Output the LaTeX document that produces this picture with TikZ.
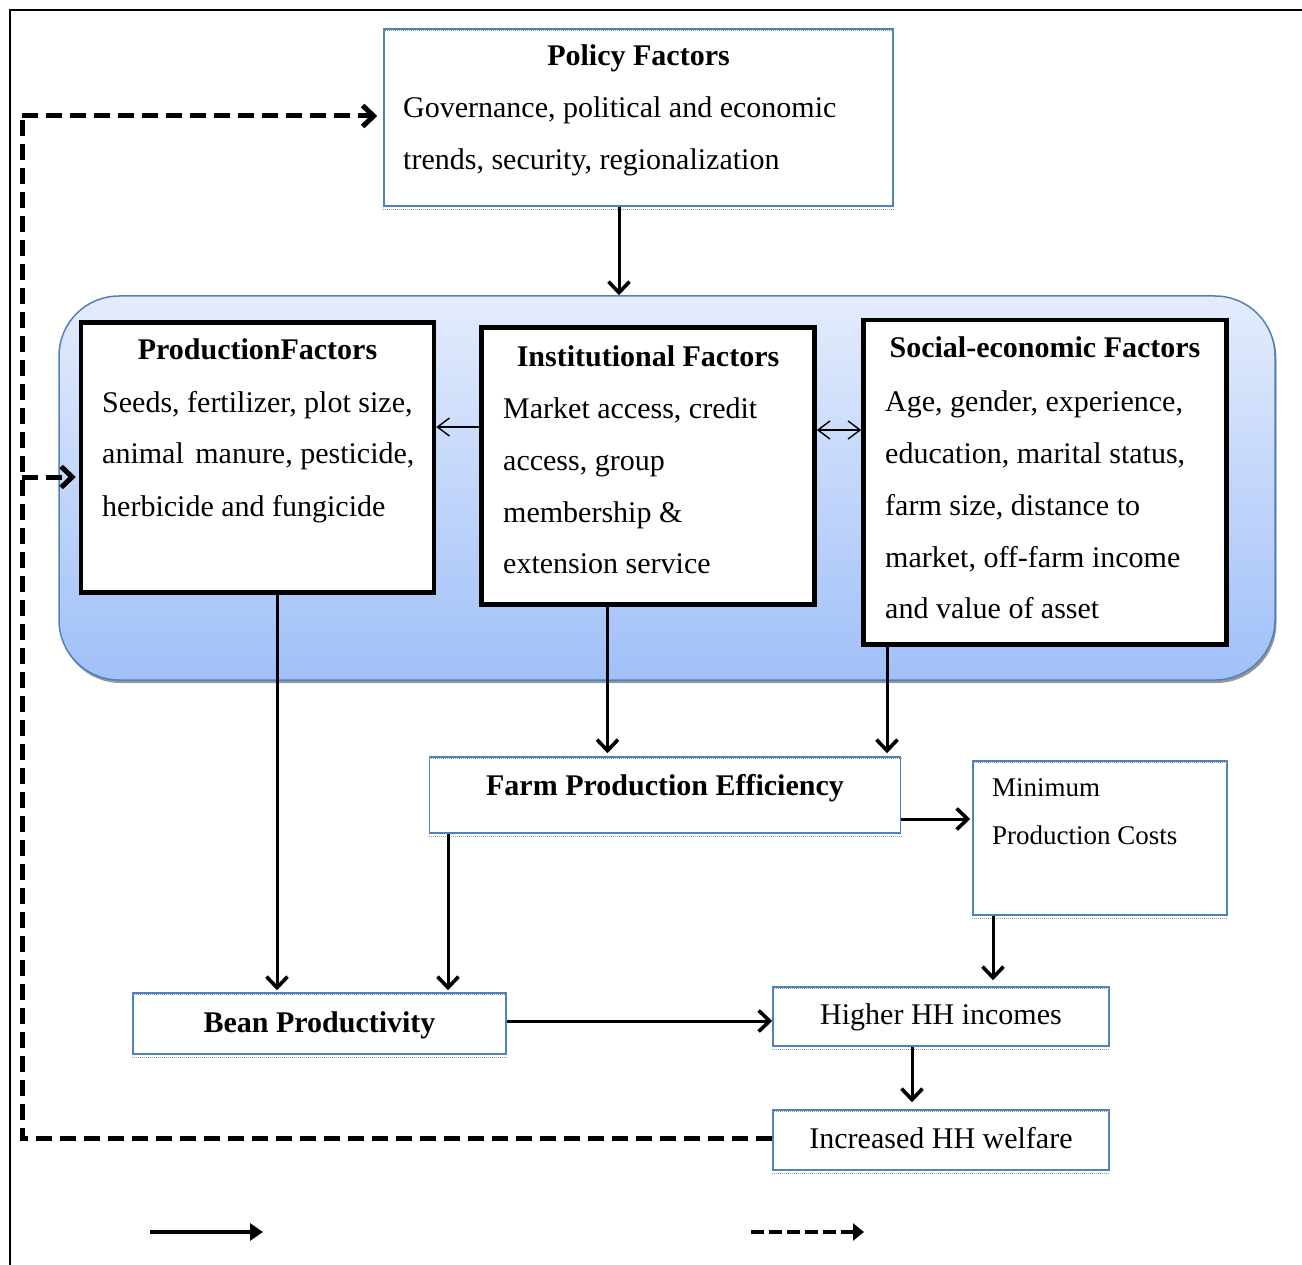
\documentclass[tikz,border=0pt]{standalone}
\usepackage{fontspec}
\setmainfont{Liberation Serif}
\usetikzlibrary{arrows.meta}
\definecolor{boxblue}{RGB}{79,129,189}
\definecolor{areatop}{RGB}{228,236,252}
\definecolor{areabot}{RGB}{160,192,248}
\definecolor{shadowgray}{RGB}{150,150,150}
\tikzset{
  bluebox/.style={draw=boxblue, line width=1.5pt, fill=white, rectangle},
  blackbox/.style={draw=black, line width=4.5pt, fill=white, rectangle},
  gline/.style={draw=shadowgray, line width=1pt, densely dotted},
  txt/.style={inner sep=0pt, anchor=base west, font=\fontsize{30}{52}\selectfont},
  hd/.style={inner sep=0pt, anchor=base, font=\fontsize{30}{52}\selectfont\bfseries},
  ctxt/.style={inner sep=0pt, anchor=base, font=\fontsize{30}{52}\selectfont},
  stxt/.style={inner sep=0pt, anchor=base west, font=\fontsize{27}{47}\selectfont},
  arr/.style={line width=3pt, -{Straight Barb[length=11pt,width=21pt,line width=3.6pt]}},
  thinarr/.style={line width=1.3pt, -{Straight Barb[length=12pt,width=18pt,line width=1.4pt]}},
  thinboth/.style={line width=1.3pt, {Straight Barb[length=12pt,width=18pt,line width=1.4pt]}-{Straight Barb[length=12pt,width=18pt,line width=1.4pt]}},
  dsh/.style={line width=5pt, dash pattern=on 16pt off 8pt},
  dsharr/.style={dsh, -{Straight Barb[length=11pt,width=21pt,line width=5pt]}},
  legsolid/.style={line width=3.5pt, -{Triangle[length=13pt,width=17pt]}},
  legdash/.style={line width=4.5pt, dash pattern=on 13pt off 5pt, -{Triangle[length=11pt,width=17pt]}}
}
\begin{document}
\begin{tikzpicture}[x=1pt,y=1pt]
\useasboundingbox (0,0) rectangle (1302,-1265);
% outer frame
\coordinate (fbl) at (10,-1265);
\coordinate (ftl) at (10,-10);
\coordinate (ftr) at (1302,-10);
\draw[line width=1.5pt] (fbl) -- (ftl) -- (ftr);

% shaded area
\fill[shadowgray, rounded corners=60pt] (60.5,-298.5) rectangle (1276.5,-683);
\node[draw=boxblue, line width=1.5pt, top color=areatop, bottom color=areabot,
      rounded corners=60pt, minimum width=1216pt, minimum height=384pt, inner sep=0pt] (area) at (667,-488) {};

% boxes
\node[bluebox, minimum width=509pt, minimum height=177pt] (pol) at (638.5,-117.5) {};
\node[blackbox, minimum width=353pt, minimum height=270pt] (prod) at (257.5,-457.5) {};
\node[blackbox, minimum width=333pt, minimum height=277pt] (inst) at (648,-466) {};
\node[blackbox, minimum width=363pt, minimum height=324.5pt] (soc) at (1045,-482.25) {};
\node[bluebox, minimum width=471pt, minimum height=76pt] (fpe) at (665,-795) {};
\node[bluebox, minimum width=254pt, minimum height=154pt] (minc) at (1100,-838) {};
\node[bluebox, minimum width=373pt, minimum height=61pt] (bean) at (319.5,-1023.5) {};
\node[bluebox, minimum width=336pt, minimum height=59pt] (hi) at (941,-1016.5) {};
\node[bluebox, minimum width=336pt, minimum height=60pt] (inc) at (941,-1140) {};

\foreach \n in {pol,fpe,minc,bean,hi,inc}{
  \draw[gline] ([yshift=-2.5pt]\n.north west) -- ([yshift=-2.5pt]\n.north east);
  \draw[gline] ([yshift=-2.5pt]\n.south west) -- ([yshift=-2.5pt]\n.south east);
}

% texts
\node[hd] (polh) at (638.5,-66) {Policy Factors};
\node[txt] (pol1) at (403,-118) {Governance, political and economic};
\node[txt] (pol2) at (403,-170) {trends, security, regionalization};

\node[hd] (prodh) at (257.5,-360) {ProductionFactors};
\node[txt] (prod1) at (102,-413) {Seeds, fertilizer, plot size,};
\node[txt] (prod2) at (102,-464) {animal\hspace{4pt} manure, pesticide,};
\node[txt] (prod3) at (102,-516) {herbicide and fungicide};

\node[hd] (insth) at (648,-367) {Institutional Factors};
\node[txt] (inst1) at (503,-418) {Market access, credit};
\node[txt] (inst2) at (503,-470) {access, group};
\node[txt] (inst3) at (503,-522) {membership \&};
\node[txt] (inst4) at (503,-573) {extension service};

\node[hd] (soch) at (1045,-358) {Social-economic Factors};
\node[txt] (soc1) at (885,-411) {Age, gender, experience,};
\node[txt] (soc2) at (885,-463) {education, marital status,};
\node[txt] (soc3) at (885,-515) {farm size, distance to};
\node[txt] (soc4) at (885,-567) {market, off-farm income};
\node[txt] (soc5) at (885,-618) {and value of asset};

\node[hd] (fpeh) at (665,-795) {Farm Production Efficiency};
\node[stxt] (min1) at (992,-796) {Minimum};
\node[stxt] (min2) at (992,-844) {Production Costs};
\node[hd] (beant) at (319.5,-1032) {Bean Productivity};
\node[ctxt] (hit) at (941,-1024) {Higher HH incomes};
\node[ctxt] (inct) at (941,-1148) {Increased HH welfare};

% connectors
\coordinate (ax) at (619,0);
\draw[arr] (pol.south -| ax) -- (area.north -| ax);
\coordinate (yi) at (0,-427);
\draw[thinarr] (inst.west |- yi) -- (prod.east |- yi);
\coordinate (ys) at (0,-430);
\draw[thinboth] (inst.east |- ys) -- (soc.west |- ys);
\coordinate (xi) at (607.5,0);
\draw[arr, shorten >=3pt] (inst.south -| xi) -- (fpe.north -| xi);
\coordinate (xs) at (887,0);
\draw[arr, shorten >=3pt] (soc.south -| xs) -- (fpe.north -| xs);
\coordinate (yf) at (0,-819);
\draw[arr, shorten >=2pt] (fpe.east |- yf) -- (minc.west |- yf);
\coordinate (xm) at (993,0);
\draw[arr, shorten >=6pt] (minc.south -| xm) -- (hi.north -| xm);
\coordinate (xp) at (277,0);
\draw[arr, shorten >=2pt] (prod.south -| xp) -- (bean.north -| xp);
\coordinate (xf) at (448,0);
\draw[arr, shorten >=2pt] (fpe.south -| xf) -- (bean.north -| xf);
\coordinate (yb) at (0,-1021);
\draw[arr] (bean.east |- yb) -- (hi.west |- yb);
\coordinate (xh) at (912,0);
\draw[arr, shorten >=7pt] (hi.south -| xh) -- (inc.north -| xh);

% feedback dashed
\coordinate (fb1) at (22,-1138);
\coordinate (fb2) at (22,-116);
\coordinate (fbm) at (22,-477);
\draw[dsh] (inc.west |- fb1) -- (fb1) -- (fb2);
\draw[dsharr, shorten >=6pt] (fb2) -- (pol.west |- fb2);
\draw[dsharr, shorten >=3pt] (fbm) -- (prod.west |- fbm);

% legend
\coordinate (l1a) at (150,-1232);
\coordinate (l1b) at (263,-1232);
\coordinate (l2a) at (751,-1232);
\coordinate (l2b) at (864,-1232);
\draw[legsolid] (l1a) -- (l1b);
\draw[legdash] (l2a) -- (l2b);
\end{tikzpicture}
\end{document}
